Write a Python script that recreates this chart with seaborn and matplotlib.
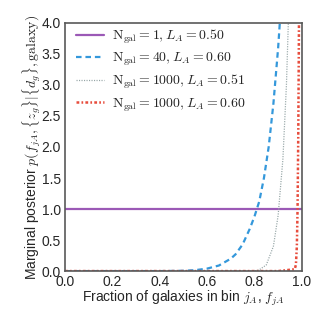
import matplotlib
matplotlib.use('Agg')
import matplotlib.pyplot as plt
import seaborn as sns

# Values
x_n1 = [0.0, 1.0]
y_n1 = [1.0, 1.0]

x_n40 = [0.0, 0.2, 0.4, 0.5, 0.55, 0.6, 0.65, 0.7, 0.72, 0.75, 0.78, 0.8,
         0.82, 0.84, 0.86, 0.88, 0.9, 0.907]
y_n40 = [0.0, 0.0, 0.0, 0.005, 0.015, 0.04, 0.09, 0.2, 0.27, 0.43, 0.68, 0.88,
         1.12, 1.5, 2.0, 2.7, 3.6, 4.0]

x_n1000a = [0.0, 0.5, 0.8, 0.82, 0.85, 0.88, 0.9, 0.92, 0.935, 0.943]
y_n1000a = [0.0, 0.0, 0.0, 0.02, 0.1, 0.4, 0.9, 1.8, 3.0, 4.0]

x_n1000b = [0.0, 0.9, 0.97, 0.975, 0.979, 0.982, 0.985, 0.988]
y_n1000b = [0.0, 0.0, 0.03, 0.1, 0.4, 1.0, 2.2, 4.0]

labels = [r'$\mathrm{N_{gal}}=1, L_A=0.50$',
          r'$\mathrm{N_{gal}}=40, L_A=0.60$',
          r'$\mathrm{N_{gal}}=1000, L_A=0.51$',
          r'$\mathrm{N_{gal}}=1000, L_A=0.60$']

sns.set_style('white')
plt.rcParams['font.family'] = ['Liberation Sans', 'DejaVu Sans']
plt.rcParams['mathtext.fontset'] = 'cm'
plt.rcParams['lines.scale_dashes'] = False

fig = plt.figure(figsize=(3.27, 3.27), dpi=100)
ax = fig.add_axes([0.199, 0.171, 0.724, 0.759])

sns.lineplot(x=x_n1, y=y_n1, ax=ax, color='#9b59b6', lw=1.6, label=labels[0])
sns.lineplot(x=x_n40, y=y_n40, ax=ax, color='#3498db', lw=1.6,
             ls=(0, (4, 2.8)), label=labels[1])
sns.lineplot(x=x_n1000a, y=y_n1000a, ax=ax, color='#95a5a6', lw=0.9,
             ls=(0, (0.8, 1.0)), label=labels[2])
sns.lineplot(x=x_n1000b, y=y_n1000b, ax=ax, color='#e74c3c', lw=1.8,
             ls=(0, (2.0, 1.6, 1.2, 1.6)), label=labels[3])

ax.set_xlim(0, 1)
ax.set_ylim(0, 4)
ax.set_xlabel(r'Fraction of galaxies in bin $j_A$, $f_{jA}$', fontsize=10,
              labelpad=-0.5)
ax.set_ylabel(r'Marginal posterior $p(f_{jA}, \{z_g\}|\{d_g\}, \mathrm{galaxy})$',
              fontsize=10, labelpad=-1)
ax.tick_params(labelsize=10, length=0, pad=3)
for s in ax.spines.values():
    s.set_color('0.35')
    s.set_linewidth(1.2)

ax.legend(loc='upper left', bbox_to_anchor=(0.012, 1.015), frameon=False,
          fontsize=10, handlelength=2.0, handletextpad=0.55,
          borderaxespad=0.2, labelspacing=0.35)

fig.savefig('out.png', dpi=100)
